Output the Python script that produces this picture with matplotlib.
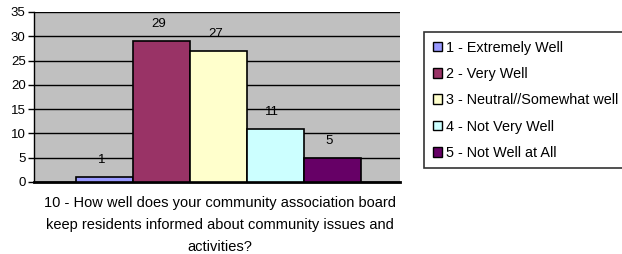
import numpy as np
import matplotlib.pyplot as plt
from matplotlib.patches import Patch

plt.rcParams['font.family'] = ['Liberation Sans', 'DejaVu Sans']

categories = ["1 - Extremely Well", "2 - Very Well", "3 - Neutral//Somewhat well",
              "4 - Not Very Well", "5 - Not Well at All"]
values = [1, 29, 27, 11, 5]
colors = ["#9999FF", "#993366", "#FFFFCC", "#CCFFFF", "#660066"]
question = ("10 - How well does your community association board\n"
            "keep residents informed about community issues and\n"
            "activities?")

fig = plt.figure(figsize=(6.22, 2.54), dpi=100)
ax = fig.add_axes([34/622, 72/254, 366/622, 170/254])
ax.set_facecolor("#C0C0C0")

x = np.arange(len(values))
ax.bar(x, values, width=1.0, color=colors, edgecolor="black", linewidth=1.2, zorder=3)
for xi, v in zip(x, values):
    ax.text(xi - 0.05, v + 2.2, str(v), ha="center", va="bottom", fontsize=9.5, zorder=4)

ax.set_xlim(-1.23, 5.19)
ax.set_ylim(0, 35)
ax.set_yticks(range(0, 36, 5))
ax.yaxis.grid(True, color="black", linewidth=1)
ax.set_axisbelow(True)
ax.set_xticks([])
ax.tick_params(axis="y", direction="out", length=4, width=1, labelsize=9.5, pad=2)
for s in ["top", "right"]:
    ax.spines[s].set_visible(False)
ax.spines["left"].set_linewidth(1)
ax.spines["bottom"].set_linewidth(2)

fig.text(220/622, 1 - 225/254, question, ha="center", va="center",
         fontsize=10.5, linespacing=1.72)

handles = [Patch(facecolor=c, edgecolor="black", linewidth=1) for c in colors]
leg = fig.legend(handles, categories, loc="upper left", bbox_to_anchor=(424/622, 1 - 32/254),
                 fontsize=10.4, frameon=True, fancybox=False, handlelength=0.65, handleheight=0.65,
                 handletextpad=0.3, labelspacing=0.85, borderpad=0.6, borderaxespad=0)
leg.get_frame().set_edgecolor("black")
leg.get_frame().set_linewidth(1.2)

fig.savefig("out.png", dpi=100)
